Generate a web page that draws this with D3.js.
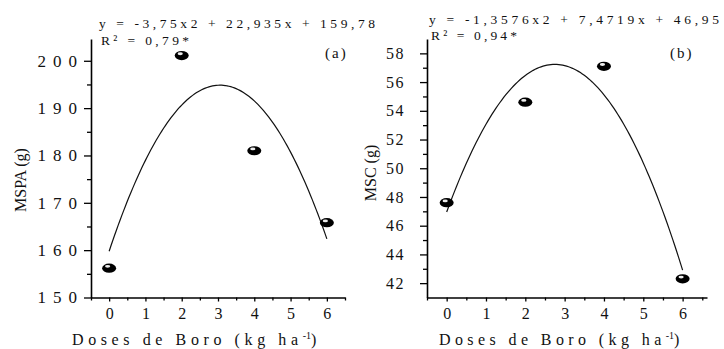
<!DOCTYPE html>
<html>
<head>
<meta charset="utf-8">
<script src="https://cdn.jsdelivr.net/npm/d3@7"></script>
<style>
  body { margin: 0; background: #fff; }
  text { font-family: "Liberation Serif", "Times New Roman", serif; fill: #111; }
</style>
</head>
<body>
<div id="canvas"></div>
<script>
const doses = [0, 2, 4, 6];
const xTicks = [0, 1, 2, 3, 4, 5, 6];
const mspa = [156.2, 201.1, 181.0, 165.8];
const msc = [47.6, 54.6, 57.1, 42.3];

// fitted quadratic coefficients [a, b, c] for y = a x^2 + b x + c
const coefA = [-3.75, 22.935, 159.78];
const coefB = [-1.3576, 7.4719, 46.95];

const eqA = ["y = -3,75x2 + 22,935x + 159,78", "R² = 0,79*"];
const eqB = ["y = -1,3576x2 + 7,4719x + 46,95", "R² = 0,94*"];

const svg = d3.select("#canvas").append("svg")
    .attr("width", 724)
    .attr("height", 349);

function panel(opt) {
    const x = d3.scaleLinear().domain(opt.xDomain).range(opt.xRange);
    const y = d3.scaleLinear().domain(opt.yDomain).range([297.5, 39]);

    const g = svg.append("g");

    // minor ticks first, then major ones with labels
    g.append("g")
        .attr("transform", `translate(${opt.xRange[0]},0)`)
        .call(d3.axisLeft(y).tickValues(opt.yMinor).tickSize(4).tickFormat(""))
        .call(a => a.select(".domain").remove());
    const yAx = g.append("g")
        .attr("transform", `translate(${opt.xRange[0]},0)`)
        .call(d3.axisLeft(y).tickValues(opt.yMajor).tickSize(7).tickSizeOuter(0)
            .tickPadding(opt.yPad).tickFormat(d3.format("d")));
    yAx.selectAll("text")
        .style("font-size", opt.yFont + "px")
        .style("letter-spacing", opt.ySpacing + "px");

    g.append("g")
        .attr("transform", "translate(0,297.5)")
        .call(d3.axisBottom(x).tickValues(xTicks.map(v => v + 0.5).concat([-0.5])).tickSize(3).tickFormat(""))
        .call(a => a.select(".domain").remove());
    const xAx = g.append("g")
        .attr("transform", "translate(0,297.5)")
        .call(d3.axisBottom(x).tickValues(xTicks).tickSize(4).tickSizeOuter(0)
            .tickPadding(6).tickFormat(d3.format("d")));
    xAx.selectAll("text").style("font-size", "16px");

    g.selectAll(".domain").attr("stroke-width", 1.6);
    g.selectAll(".tick line").attr("stroke-width", 1.3);

    // regression curve from the printed equation
    const c = opt.coef;
    const pts = d3.range(0, 6.001, 0.05).map(v => [v, c[0] * v * v + c[1] * v + c[2]]);
    g.append("path")
        .datum(pts)
        .attr("fill", "none")
        .attr("stroke", "#111")
        .attr("stroke-width", 1.2)
        .attr("d", d3.line().x(d => x(d[0])).y(d => y(d[1])));

    // shiny bead markers
    const m = g.selectAll(".pt").data(opt.values).enter().append("g")
        .attr("class", "pt")
        .attr("transform", (d, i) => `translate(${x(doses[i])},${y(d)})`);
    m.append("ellipse").attr("rx", 7).attr("ry", 4.6).attr("fill", "#000");
    m.append("ellipse").attr("cx", -1.5).attr("cy", -1.8).attr("rx", 2.6).attr("ry", 1.4).attr("fill", "#eee");

    // equation text
    g.append("text").attr("x", opt.eqX).attr("y", opt.eqY[0])
        .attr("textLength", opt.eqW[0]).attr("lengthAdjust", "spacing")
        .style("font-size", "13.5px").text(opt.eq[0]);
    g.append("text").attr("x", opt.eqX + 2).attr("y", opt.eqY[1])
        .attr("textLength", opt.eqW[1]).attr("lengthAdjust", "spacing")
        .style("font-size", "13.5px").text(opt.eq[1]);

    g.append("text").attr("x", opt.tag[1]).attr("y", 58)
        .style("font-size", "15px").style("letter-spacing", "2px")
        .text(opt.tag[0]);

    // axis titles
    g.append("text")
        .attr("transform", `translate(${opt.yTitle[1]},${opt.yTitle[2]}) rotate(-90)`)
        .attr("text-anchor", "middle")
        .style("font-size", "16px")
        .text(opt.yTitle[0]);

    const t = g.append("text")
        .attr("x", opt.xTitle[0]).attr("y", 345)
        .style("font-size", "16px")
        .style("letter-spacing", opt.xTitle[1] + "px");
    t.append("tspan").text("Doses de Boro (kg ha");
    t.append("tspan").attr("dy", -6).style("font-size", "10px").style("letter-spacing", "0px").text("-1");
    t.append("tspan").attr("dy", 6).text(")");
}

panel({
    xDomain: [-0.5, 6.5], xRange: [91, 345],
    yDomain: [150, 204.6],
    yMajor: [150, 160, 170, 180, 190, 200], yMinor: [155, 165, 175, 185, 195],
    yFont: 17, ySpacing: 7, yPad: 0,
    coef: coefA, values: mspa,
    eq: eqA, eqX: 99, eqY: [28, 45], eqW: [276, 88],
    tag: ["(a)", 325],
    yTitle: ["MSPA (g)", 26, 180],
    xTitle: [72, 4.6]
});

panel({
    xDomain: [-0.5, 6.62], xRange: [427, 707],
    yDomain: [41, 59],
    yMajor: [42, 44, 46, 48, 50, 52, 54, 56, 58], yMinor: [43, 45, 47, 49, 51, 53, 55, 57],
    yFont: 16, ySpacing: 1.5, yPad: 15,
    coef: coefB, values: msc,
    eq: eqB, eqX: 429, eqY: [24, 40], eqW: [290, 86],
    tag: ["(b)", 670],
    yTitle: ["MSC (g)", 376, 173],
    xTitle: [439, 4.4]
});
</script>
</body>
</html>
